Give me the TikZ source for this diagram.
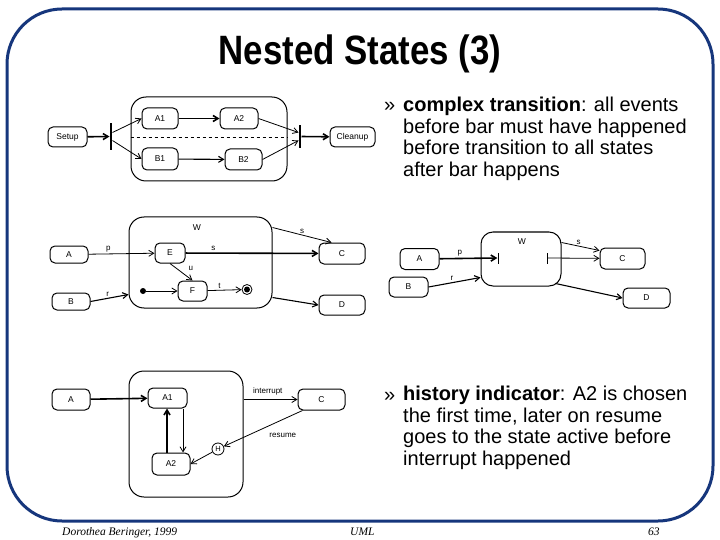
\documentclass[tikz,border=0pt]{standalone}
\usepackage{fontspec}
\setmainfont{Liberation Sans}
\newfontfamily\titlefont[FakeStretch=0.85]{Liberation Sans}
\newfontfamily\footfont{Liberation Serif}
\usetikzlibrary{arrows.meta}
\definecolor{framebl}{RGB}{22,54,124}
\newcommand\boxfont{\fontsize{8.5}{10}\selectfont}
\newcommand\evfont{\fontsize{8}{9}\selectfont}
\begin{document}
\begin{tikzpicture}[x=1pt,y=-1pt,
  st/.style={draw, rounded corners=5pt, line width=1pt, inner sep=0pt,
    minimum width=38pt, minimum height=20pt, font=\boxfont},
  big/.style={draw, rounded corners=15pt, line width=1pt, inner sep=0pt},
  syncbar/.style={fill=black, inner sep=0pt, minimum width=2.6pt},
  tr/.style={line width=0.8pt, -{Straight Barb[length=5pt,width=6pt]}},
  trthick/.style={tr, line width=1.6pt},
  ev/.style={font=\evfont, inner sep=1.5pt},
  bultext/.style={font=\fontsize{20}{21.6}\selectfont, align=left, inner sep=0pt, anchor=north west}]
\useasboundingbox (0,0) rectangle (720,540);
\draw[framebl, line width=3pt, rounded corners=55pt] (7,9) rectangle (713,521);
\node[font=\titlefont\fontsize{41}{46}\selectfont\bfseries, anchor=base] (title) at (360,65) {Nested States (3)};

% complex transition, upper diagram
\node[st, minimum width=39pt] (setup) at (67.5,137) {Setup};
\node[syncbar, minimum height=27pt] (bar1) at (111,136.5) {};
\node[big, minimum width=156pt, minimum height=84pt] (cs) at (209,139) {};
\node[st, minimum width=36pt, minimum height=21pt] (a1) at (160,118.5) {A1};
\node[st, minimum height=21pt] (a2) at (239,118.5) {A2};
\node[st, minimum width=36pt, minimum height=22pt] (b1) at (160,159) {B1};
\node[st, minimum width=37pt, minimum height=21pt] (b2) at (243.5,159.5) {B2};
\node[syncbar, minimum height=23pt] (bar2) at (300,136.5) {};
\node[st, minimum width=45pt] (cleanup) at (352.5,137) {Cleanup};
\draw[dashed, line width=0.6pt] ([yshift=2pt]cs.west) -- ([yshift=2pt]cs.east);
\draw[trthick] (setup) -- (bar1);
\draw[tr] ([yshift=4pt]bar1.east) -- (a1.west);
\draw[tr] ([yshift=-4pt]bar1.east) -- (b1.west);
\draw[trthick] (a1) -- (a2);
\draw[tr, line width=1.1pt] (b1) -- (b2);
\draw[tr] (a2.east) -- ([yshift=4pt]bar2.west);
\draw[tr] (b2.east) -- ([yshift=-4pt]bar2.west);
\draw[trthick] (bar2) -- (cleanup);

% nested state W
\node[st, minimum height=17pt] (A) at (69,254.5) {A};
\node[st, minimum height=17pt] (B) at (71,301.5) {B};
\node[big, minimum width=143pt, minimum height=91pt] (W) at (200.5,262.5) {};
\node[ev, font=\boxfont] (wname) at (197,228) {W};
\node[st, minimum width=30pt] (E) at (170,253) {E};
\node[st, minimum width=29pt] (F) at (192.5,291) {F};
\node[circle, fill=black, inner sep=0pt, minimum size=6pt] (init) at (143,291) {};
\node[circle, draw, line width=0.8pt, inner sep=0pt, minimum size=10pt] (final) at (247,289.5) {};
\fill (final.center) circle (3pt);
\node[st, minimum width=46pt, minimum height=21pt] (C) at (342,253.5) {C};
\node[st, minimum width=46pt] (D) at (342,305) {D};
\draw[tr] (A) -- node[ev, pos=0.3, above] {p} (E);
\draw[trthick] (E) -- node[ev, pos=0.21, above] {s} (C);
\draw[tr] ([yshift=-11pt]W.north east) -- node[ev, pos=0.5, above] {s} ([xshift=13pt]C.north west);
\draw[tr] (E.south) -- node[ev, pos=0.3, right=10pt] {u} (F.north);
\draw[tr, line width=1.1pt] (B.east) -- node[ev, pos=0.45, above] {r} ([yshift=14pt]W.south west);
\draw[tr] (init) -- (F);
\draw[tr] (F) -- node[ev, pos=0.35, above] {t} (final);
\draw[tr, line width=1.1pt] ([yshift=11pt]W.south east) -- (D.west);

% complex transition, right diagram
\node[st, minimum width=39pt, minimum height=21pt] (A3) at (419.5,259) {A};
\node[st, minimum width=39pt] (B3) at (408.5,287) {B};
\node[big, rounded corners=12pt, minimum width=80pt, minimum height=54pt] (W3) at (521,259) {};
\node[ev, font=\boxfont] (w3name) at (522,242) {W};
\node[fill=black, inner sep=0pt, minimum width=0.8pt, minimum height=11pt] (tick3a) at (498,258) {};
\node[fill=black, inner sep=0pt, minimum width=0.8pt, minimum height=11pt] (tick3b) at (547,258) {};
\node[st, minimum width=45pt, minimum height=21pt] (C3) at (622.5,258.5) {C};
\node[st, minimum width=47pt] (D3) at (646.5,298) {D};
\draw[trthick] (A3) -- node[ev, pos=0.35, above] {p} (tick3a);
\draw[tr] (tick3b) -- (C3);
\draw[tr] ([yshift=-11pt]W3.north east) -- node[ev, pos=0.45, above] {s} ([yshift=-3pt]C3.north west);
\draw[tr, line width=1.1pt] (B3.east) -- node[ev, pos=0.45, above] {r} ([yshift=9pt]W3.south west);
\draw[tr, line width=1.1pt] ([xshift=-6pt,yshift=3pt]W3.south east) -- (D3.west);

% history indicator
\node[st, minimum height=21pt] (A4) at (71,399.5) {A};
\node[big, minimum width=114pt, minimum height=126pt] (S4) at (186,434) {};
\node[st, minimum width=39pt] (A14) at (167.5,398) {A1};
\node[st, minimum height=22pt] (A24) at (171,464) {A2};
\node[st, minimum width=47pt, minimum height=21pt] (C4) at (321.5,399.5) {C};
\node[circle, draw, line width=0.8pt, inner sep=0pt, minimum size=12pt, font=\fontsize{7.5}{8}\selectfont] (hist) at (218,449) {H};
\draw[trthick] (A4) -- (A14);
\draw[tr] ([yshift=-29pt]S4.north east) -- node[ev, pos=0.45, above=2pt] {interrupt} (C4.west);
\draw[tr] ([xshift=5pt]C4.south west) -- node[ev, pos=0.25, below=12pt] {resume} (hist);
\draw[tr] (hist) -- (A24.east);
\draw[trthick] ([xshift=-4pt]A24.north) -- ([xshift=-0.5pt]A14.south);
\draw[tr] ([xshift=15.5pt]A14.south) -- ([xshift=12pt]A24.north);

% bullet texts
\node[font=\fontsize{20}{21.6}\selectfont, anchor=base west, inner sep=0pt] (bul1) at (384,112) {»};
\node[bultext] (txt1) at (403,97) {\textbf{complex transition}: all events\\before bar must have happened\\before transition to all states\\after bar happens};
\node[font=\fontsize{20}{21.6}\selectfont, anchor=base west, inner sep=0pt] (bul2) at (384,401) {»};
\node[bultext] (txt2) at (403,386) {\textbf{history indicator}: A2 is chosen\\the first time, later on resume\\goes to the state active before\\interrupt happened};

% footer
\node[font=\footfont\itshape\fontsize{11.5}{12}\selectfont, anchor=base west, inner sep=0pt] (author) at (62,535) {Dorothea Beringer, 1999};
\node[font=\footfont\itshape\fontsize{11.5}{12}\selectfont, anchor=base west, inner sep=0pt] (course) at (350,535) {UML};
\node[font=\footfont\itshape\fontsize{11.5}{12}\selectfont, anchor=base west, inner sep=0pt] (page) at (648,535) {63};
\end{tikzpicture}
\end{document}
